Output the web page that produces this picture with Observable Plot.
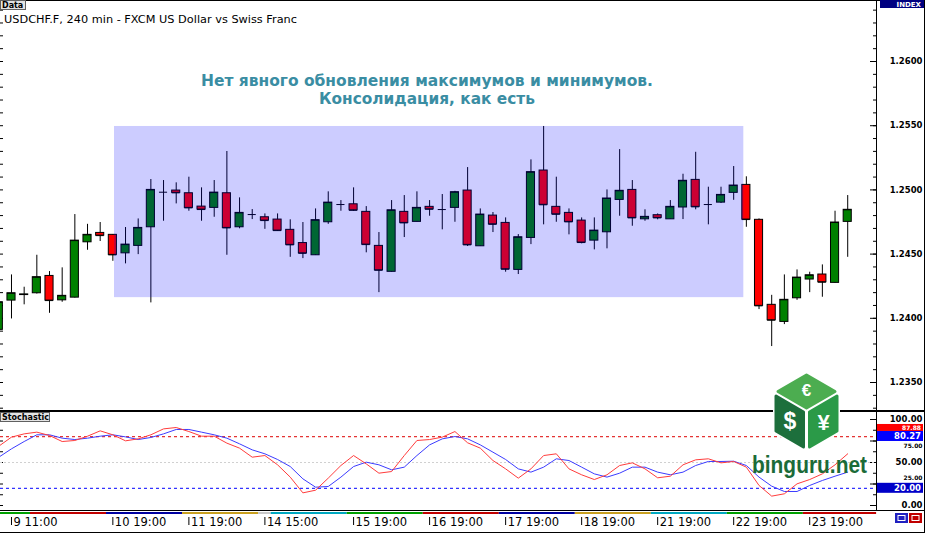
<!DOCTYPE html>
<html><head><meta charset="utf-8">
<script src="https://cdn.jsdelivr.net/npm/d3@7"></script>
<script src="https://cdn.jsdelivr.net/npm/@observablehq/plot@0.6"></script>
<style>
html,body{margin:0;padding:0;background:#fff;}
#chart{position:relative;width:930px;height:533px;overflow:hidden;background:#fff;}
.panel{position:absolute;left:0;}
.panel svg{display:block;}
#overlay{position:absolute;left:0;top:0;}
</style></head>
<body><div id="chart"></div>
<script>
// ---------------- DATA ----------------
const firstCandleIndex = -1;
const opens = [1.23910,1.24138,1.24181,1.24195,1.24330,1.24140,1.24161,1.24592,1.24665,1.24650,1.24506,1.24564,1.24709,1.24982,1.24995,1.24974,1.24870,1.24860,1.24974,1.24709,1.24808,1.24787,1.24769,1.24689,1.24586,1.24491,1.24748,1.24886,1.24888,1.24829,1.24564,1.24362,1.24829,1.24751,1.24868,1.24847,1.24860,1.24995,1.24561,1.24800,1.24743,1.24377,1.24626,1.25151,1.24868,1.24821,1.24761,1.24605,1.24670,1.24922,1.25000,1.24771,1.24803,1.24771,1.24863,1.25078,1.24886,1.24901,1.24977,1.25039,1.24767,1.24105,1.23972,1.24156,1.24302,1.24341,1.24276,1.24751];
const highs = [1.24125,1.24338,1.24242,1.24491,1.24364,1.24393,1.24808,1.24732,1.24746,1.24652,1.24707,1.24774,1.25081,1.25073,1.25055,1.25099,1.25016,1.25073,1.25299,1.24938,1.24847,1.24813,1.24813,1.24767,1.24746,1.24852,1.24985,1.24917,1.25016,1.24870,1.24668,1.24917,1.24956,1.24985,1.24917,1.24964,1.24989,1.25174,1.24852,1.24824,1.24782,1.24652,1.25234,1.25494,1.25099,1.24852,1.24782,1.24782,1.25000,1.25314,1.25073,1.24845,1.24813,1.24917,1.25122,1.25293,1.25021,1.25021,1.25182,1.25102,1.24774,1.24179,1.24338,1.24377,1.24359,1.24416,1.24834,1.24956];
const lows = [1.23858,1.23995,1.24105,1.24189,1.24039,1.24125,1.24158,1.24530,1.24598,1.24444,1.24424,1.24496,1.24120,1.24756,1.24891,1.24834,1.24756,1.24787,1.24491,1.24697,1.24769,1.24693,1.24676,1.24475,1.24465,1.24489,1.24732,1.24834,1.24834,1.24510,1.24200,1.24360,1.24629,1.24750,1.24795,1.24689,1.24748,1.24559,1.24559,1.24668,1.24359,1.24341,1.24574,1.24728,1.24748,1.24650,1.24580,1.24533,1.24541,1.24795,1.24717,1.24756,1.24767,1.24771,1.24769,1.24845,1.24728,1.24894,1.24919,1.24709,1.24068,1.23780,1.23951,1.24140,1.24200,1.24164,1.24274,1.24475];
const closes = [1.24125,1.24195,1.24186,1.24320,1.24138,1.24175,1.24605,1.24650,1.24644,1.24494,1.24574,1.24704,1.25000,1.24982,1.24977,1.24860,1.24847,1.24979,1.24704,1.24821,1.24808,1.24761,1.24683,1.24572,1.24506,1.24764,1.24901,1.24886,1.24841,1.24574,1.24374,1.24841,1.24743,1.24860,1.24849,1.24847,1.24982,1.24572,1.24808,1.24732,1.24382,1.24631,1.25138,1.24884,1.24810,1.24751,1.24590,1.24683,1.24933,1.24993,1.24782,1.24790,1.24782,1.24868,1.25071,1.24868,1.24886,1.24961,1.25034,1.24769,1.24097,1.23985,1.24144,1.24317,1.24335,1.24281,1.24746,1.24845];

const stochK = [69,79.5,83.3,85.3,81.4,74.4,75.6,80.6,86.8,82.2,75.2,77.5,82.2,89.1,90.7,86,80.6,80.6,72.5,66.7,56.2,58.1,47.3,33,14.7,17.8,31.8,46.5,58.1,48.4,37.6,39.5,58.1,75.6,76.7,79.5,86.0,72.9,66.7,52.3,42.6,31.8,42.6,58.1,60.1,42.6,35.7,30.2,35.7,46.5,49.6,42.6,32.2,34.1,47.3,53.1,54.3,49.6,51.2,44.6,23.3,10.9,13.6,25.2,30.2,36.8,47.3,60.1];
const stochD = [56.2,65.9,74.4,82.2,82.2,78.3,76.7,78.3,80.6,82.2,79.8,76.7,79.1,83.3,88.4,88.4,85.3,82.2,78.3,71.7,64.7,60.1,53.5,45.3,31,21.3,22.1,33,45.3,50.4,47.3,41.5,44.6,58.1,70.5,77.5,80.2,77.5,70.5,62,53.5,42.6,38.8,44.6,54.3,52.3,44.6,36.8,33,37.6,44.6,44.6,38.8,35.7,38.8,46.5,51.2,51.2,51.5,46.5,33,22.5,16.3,16.3,23.3,29.1,34.1,38.8];

const timeTickIndex = [0,8,14,20,27,33,39,45,51,57,63];
const timeTickLabels = ["9 11:00","10 19:00","11 19:00","14 15:00","15 19:00","16 19:00","17 19:00","18 19:00","21 19:00","22 19:00","23 19:00"];
const sessionStarts = [-0.87,1.5,7.5,13.5,19.5,20.5,26.5,32.5,38.5,44.5,50.5,56.5,62.5];
const sessionEnd = 68.28;

const priceTicks = [1.2350,1.2400,1.2450,1.2500,1.2550,1.2600];
const stochMainTicks = [0,50,100];
const stochUpperSideTick = [75];
const stochLowerSideTick = [25];
const stochMarkerValues = [87.88, 80.27, 20.00];

const consolidationIndex = [8.13, 57.8];
const consolidationPrice = [1.24161, 1.25494];
const annotationLines = ["Нет явного обновления максимумов и минимумов.", "Консолидация, как есть"];
const annotationPrice = [1.25848, 1.25704];
const annotationIndex = [32.79, 32.79];

const titleText = "USDCHF.F, 240 min - FXCM US Dollar vs Swiss Franc";

// ---------------- STYLE ----------------
const W = 930, MR = 54;
const xDomain = [-0.868, 68.272];
const priceDomain = [1.23282, 1.264751];
const stochDomain = [-5.81, 110.47];
const UP = "#008000", DOWN = "#ff0000";
const sessionColors = ["#00a000","#c00000","#0000a0","#c8a020","#c8c8c8","#00a8c0","#00a000","#c00000","#0000a0","#c8a020","#00a8c0","#00a000","#c00000"];
const annotationWidths = [452, 216];
const FONT = "DejaVu Sans";

// ---------------- TABLES ----------------
const candles = opens.map((o,k)=>({i:k+firstCandleIndex, open:o, high:highs[k], low:lows[k], close:closes[k]}));
const stochRows = stochK.map((k,j)=>({i:j+firstCandleIndex, k, d:stochD[j]}));
const timeTicks = timeTickIndex.map((i,j)=>({i, label:timeTickLabels[j]}));
const sessions = sessionStarts.map((s,j)=>({start:s, end: j<sessionStarts.length-1? sessionStarts[j+1] : sessionEnd, color:sessionColors[j]}));
const zone = [{x1:consolidationIndex[0], x2:consolidationIndex[1], y1:consolidationPrice[0], y2:consolidationPrice[1]}];
const notes = annotationLines.map((t,j)=>({text:t, i:annotationIndex[j], p:annotationPrice[j]}));
const minorPrice = d3.range(1233, 1265).map(v=>v/1000);
const minorStoch = d3.range(0, 101, 12.5);
const majorStoch = stochMainTicks.concat(stochUpperSideTick, stochLowerSideTick);
const halfBody = 0.32;
const axisLabel = {frameAnchor:"right", dx:46, textAnchor:"end", fontWeight:"bold", fontFamily:FONT, fill:"#000"};

// ---------------- MAIN PANEL ----------------
const main = Plot.plot({
  width:W, height:410, marginLeft:0, marginRight:MR, marginTop:0, marginBottom:0,
  style:{background:"transparent"},
  x:{domain:xDomain, axis:null},
  y:{domain:priceDomain, axis:null},
  marks:[
    Plot.tickY(minorPrice, {y:d=>d, insetLeft:873, stroke:"#000"}),
    Plot.tickY(priceTicks, {y:d=>d, insetLeft:870, stroke:"#000"}),
    Plot.tickY(minorPrice, {y:d=>d, insetRight:873, stroke:"#000"}),
    Plot.text(priceTicks, {y:d=>d, text:d=>d.toFixed(4), fontSize:8.5, ...axisLabel}),
    Plot.ruleX(candles, {x:"i", y1:"low", y2:"high", stroke:"#000", strokeWidth:1}),
    Plot.rect(candles, {x1:d=>d.i-halfBody, x2:d=>d.i+halfBody, y1:"open", y2:"close", fill:d=>d.close>=d.open?UP:DOWN, stroke:"#000", strokeWidth:1}),
    Plot.ruleY(candles, {y:"close", x1:d=>d.i-halfBody, x2:d=>d.i+halfBody, stroke:"#000", strokeWidth:1}),
    Plot.rect(zone, {x1:"x1", x2:"x2", y1:"y1", y2:"y2", fill:"#0000ff", fillOpacity:0.2}),
    Plot.text(notes, {x:"i", y:"p", text:"text", fontSize:15.5, fontWeight:"bold", fontFamily:FONT, fill:"#3a8da3", textAnchor:"middle"})
  ]
});
d3.select(main).selectAll("text").each(function(){
  const k = annotationLines.indexOf(this.textContent);
  if (k >= 0) { this.setAttribute("textLength", annotationWidths[k]); this.setAttribute("lengthAdjust","spacingAndGlyphs"); }
});

// ---------------- STOCHASTIC PANEL ----------------
const stoch = Plot.plot({
  width:W, height:100, marginLeft:0, marginRight:MR, marginTop:0, marginBottom:0,
  style:{background:"transparent"},
  x:{domain:xDomain, axis:null},
  y:{domain:stochDomain, axis:null},
  marks:[
    Plot.tickY(minorStoch, {y:d=>d, insetLeft:873, stroke:"#000"}),
    Plot.tickY(majorStoch, {y:d=>d, insetLeft:870, stroke:"#000"}),
    Plot.tickY(minorStoch, {y:d=>d, insetRight:873, stroke:"#000"}),
    Plot.text(stochMainTicks, {y:d=>d, text:d=>d.toFixed(2), fontSize:8.5, ...axisLabel}),
    // 25 / 75 labels are mostly covered by the value boxes in the original: tucked just beside them
    Plot.text(stochUpperSideTick, {y:d=>d, text:d=>d.toFixed(2), dy:5.5, fontSize:6, ...axisLabel}),
    Plot.text(stochLowerSideTick, {y:d=>d, text:d=>d.toFixed(2), dy:-5.5, fontSize:6, ...axisLabel}),
    Plot.ruleY([50], {stroke:"#d0d0d0", strokeDasharray:"2,2"}),
    Plot.ruleY([80], {stroke:"#dd0000", strokeDasharray:"3,3"}),
    Plot.ruleY([20], {stroke:"#0000ff", strokeDasharray:"3,3"}),
    Plot.line(stochRows, {x:"i", y:"d", stroke:"#3c3cff", strokeWidth:1}),
    Plot.line(stochRows, {x:"i", y:"k", stroke:"#ff3c3c", strokeWidth:1})
  ]
});

// ---------------- TIME AXIS ----------------
const timeAxis = Plot.plot({
  width:W, height:23, marginLeft:0, marginRight:MR, marginTop:0, marginBottom:0,
  style:{background:"transparent"},
  x:{domain:xDomain, axis:null},
  y:{domain:[0,1], axis:null},
  marks:[
    Plot.rect(sessions, {x1:"start", x2:"end", fill:"color", insetTop:2, insetBottom:19}),
    Plot.ruleX(timeTicks, {x:"i", insetTop:7, insetBottom:8, stroke:"#000"}),
    Plot.text(timeTicks, {x:"i", text:"label", frameAnchor:"middle", textAnchor:"start", dx:2, fontSize:11.5, fontFamily:FONT, fill:"#000"})
  ]
});

const chart = document.getElementById("chart");
[[main,0],[stoch,410],[timeAxis,510]].forEach(([svg,top])=>{
  const d = document.createElement("div"); d.className="panel"; d.style.top = top+"px";
  d.appendChild(svg); chart.appendChild(d);
});

// ---------------- OVERLAY (frame, labels, logo) ----------------
const ys = stoch.scale("y");
const ov = d3.select(chart).append("svg").attr("id","overlay").attr("width",W).attr("height",533);

// frame lines
ov.append("rect").attr("x",0).attr("y",0).attr("width",925).attr("height",1).attr("fill","#000");
ov.append("rect").attr("x",0).attr("y",410).attr("width",925).attr("height",2).attr("fill","#000");
ov.append("rect").attr("x",0).attr("y",510).attr("width",925).attr("height",1).attr("fill","#000");
ov.append("rect").attr("x",0).attr("y",532).attr("width",925).attr("height",1).attr("fill","#000");
ov.append("rect").attr("x",876).attr("y",0).attr("width",1).attr("height",511).attr("fill","#000");
ov.append("rect").attr("x",924).attr("y",0).attr("width",1).attr("height",533).attr("fill","#000");

// stochastic value boxes: %K last (red, partly tucked above), %D last (blue), lower level (navy)
function valueBox(top, h, color, label, fs) {
  ov.append("rect").attr("x",877).attr("y",top).attr("width",46).attr("height",h).attr("fill",color);
  ov.append("text").attr("x",921).attr("y",top + h/2 + fs*0.36).attr("text-anchor","end").attr("font-family",FONT)
    .attr("font-size",fs).attr("font-weight","bold").attr("fill","#fff").text(label);
}
const blueTop = 410 + ys.apply(stochMarkerValues[1]) - 5;
valueBox(blueTop - 7, 7, "#ff0000", stochMarkerValues[0].toFixed(2), 6);
valueBox(blueTop, 10, "#0000ff", stochMarkerValues[1].toFixed(2), 8.5);
valueBox(410 + ys.apply(stochMarkerValues[2]) - 5, 10, "#0000c8", stochMarkerValues[2].toFixed(2), 8.5);

// top-left "Data" box and title
ov.append("rect").attr("x",0.5).attr("y",0.5).attr("width",25).attr("height",9).attr("fill","#e4e4e4").attr("stroke","#606060");
ov.append("text").attr("x",2).attr("y",8).attr("font-family",FONT).attr("font-size",8).attr("font-weight","bold").attr("fill","#000").text("Data");
ov.append("text").attr("x",4).attr("y",23).attr("font-family",FONT).attr("font-size",11).attr("fill","#000")
  .attr("textLength",293).attr("lengthAdjust","spacingAndGlyphs").text(titleText);

// INDEX box
ov.append("rect").attr("x",880).attr("y",0).attr("width",44).attr("height",8).attr("fill","#000080");
ov.append("text").attr("x",921).attr("y",7).attr("text-anchor","end").attr("font-family",FONT).attr("font-size",7).attr("font-weight","bold").attr("fill","#fff").text("INDEX");

// Stochastic label
ov.append("rect").attr("x",0.5).attr("y",412.5).attr("width",49).attr("height",9).attr("fill","#e4e4e4").attr("stroke","#606060");
ov.append("text").attr("x",2).attr("y",420).attr("font-family",FONT).attr("font-size",8).attr("font-weight","bold").attr("fill","#000").text("Stochastic");

// bottom-right buttons
ov.append("rect").attr("x",895).attr("y",513).attr("width",13).attr("height",10).attr("fill","#2020c0");
ov.append("rect").attr("x",898).attr("y",515.5).attr("width",7).attr("height",5).attr("fill","none").attr("stroke","#fff");
ov.append("rect").attr("x",909).attr("y",513).attr("width",13).attr("height",10).attr("fill","#c00000");
ov.append("rect").attr("x",912).attr("y",515.5).attr("width",7).attr("height",5).attr("fill","none").attr("stroke","#fff");

// logo
const lg = ov.append("g");
lg.append("path").attr("d","M806.5,371 L840,390 L840,433 L806.5,451 L773,433 L773,390 Z").attr("fill","#fff");
lg.append("path").attr("d","M806.5,375 L835,391.5 L806.5,408 L778,391.5 Z").attr("fill","#4cad50").attr("stroke","#4cad50").attr("stroke-width",3).attr("stroke-linejoin","round");
lg.append("path").attr("d","M776,396 L803.5,412 L803.5,447 L776,431 Z").attr("fill","#1d6f3c").attr("stroke","#1d6f3c").attr("stroke-width",3).attr("stroke-linejoin","round");
lg.append("path").attr("d","M837,396 L809.5,412 L809.5,447 L837,431 Z").attr("fill","#2b9a48").attr("stroke","#2b9a48").attr("stroke-width",3).attr("stroke-linejoin","round");
lg.append("text").attr("x",806.5).attr("y",396).attr("text-anchor","middle").attr("font-family","Liberation Sans").attr("font-weight","bold").attr("font-size",17).attr("fill","#fff").text("€");
lg.append("text").attr("x",790).attr("y",429).attr("text-anchor","middle").attr("font-family","Liberation Sans").attr("font-weight","bold").attr("font-size",23).attr("fill","#fff").text("$");
lg.append("text").attr("x",823.5).attr("y",430).attr("text-anchor","middle").attr("font-family","Liberation Sans").attr("font-weight","bold").attr("font-size",22).attr("fill","#fff").text("¥");
lg.append("text").attr("x",752).attr("y",473).attr("font-family","Liberation Sans").attr("font-weight","bold").attr("font-size",23).attr("fill","#1b6b38")
  .attr("textLength",115).attr("lengthAdjust","spacingAndGlyphs").text("binguru.net");
</script>
</body></html>
